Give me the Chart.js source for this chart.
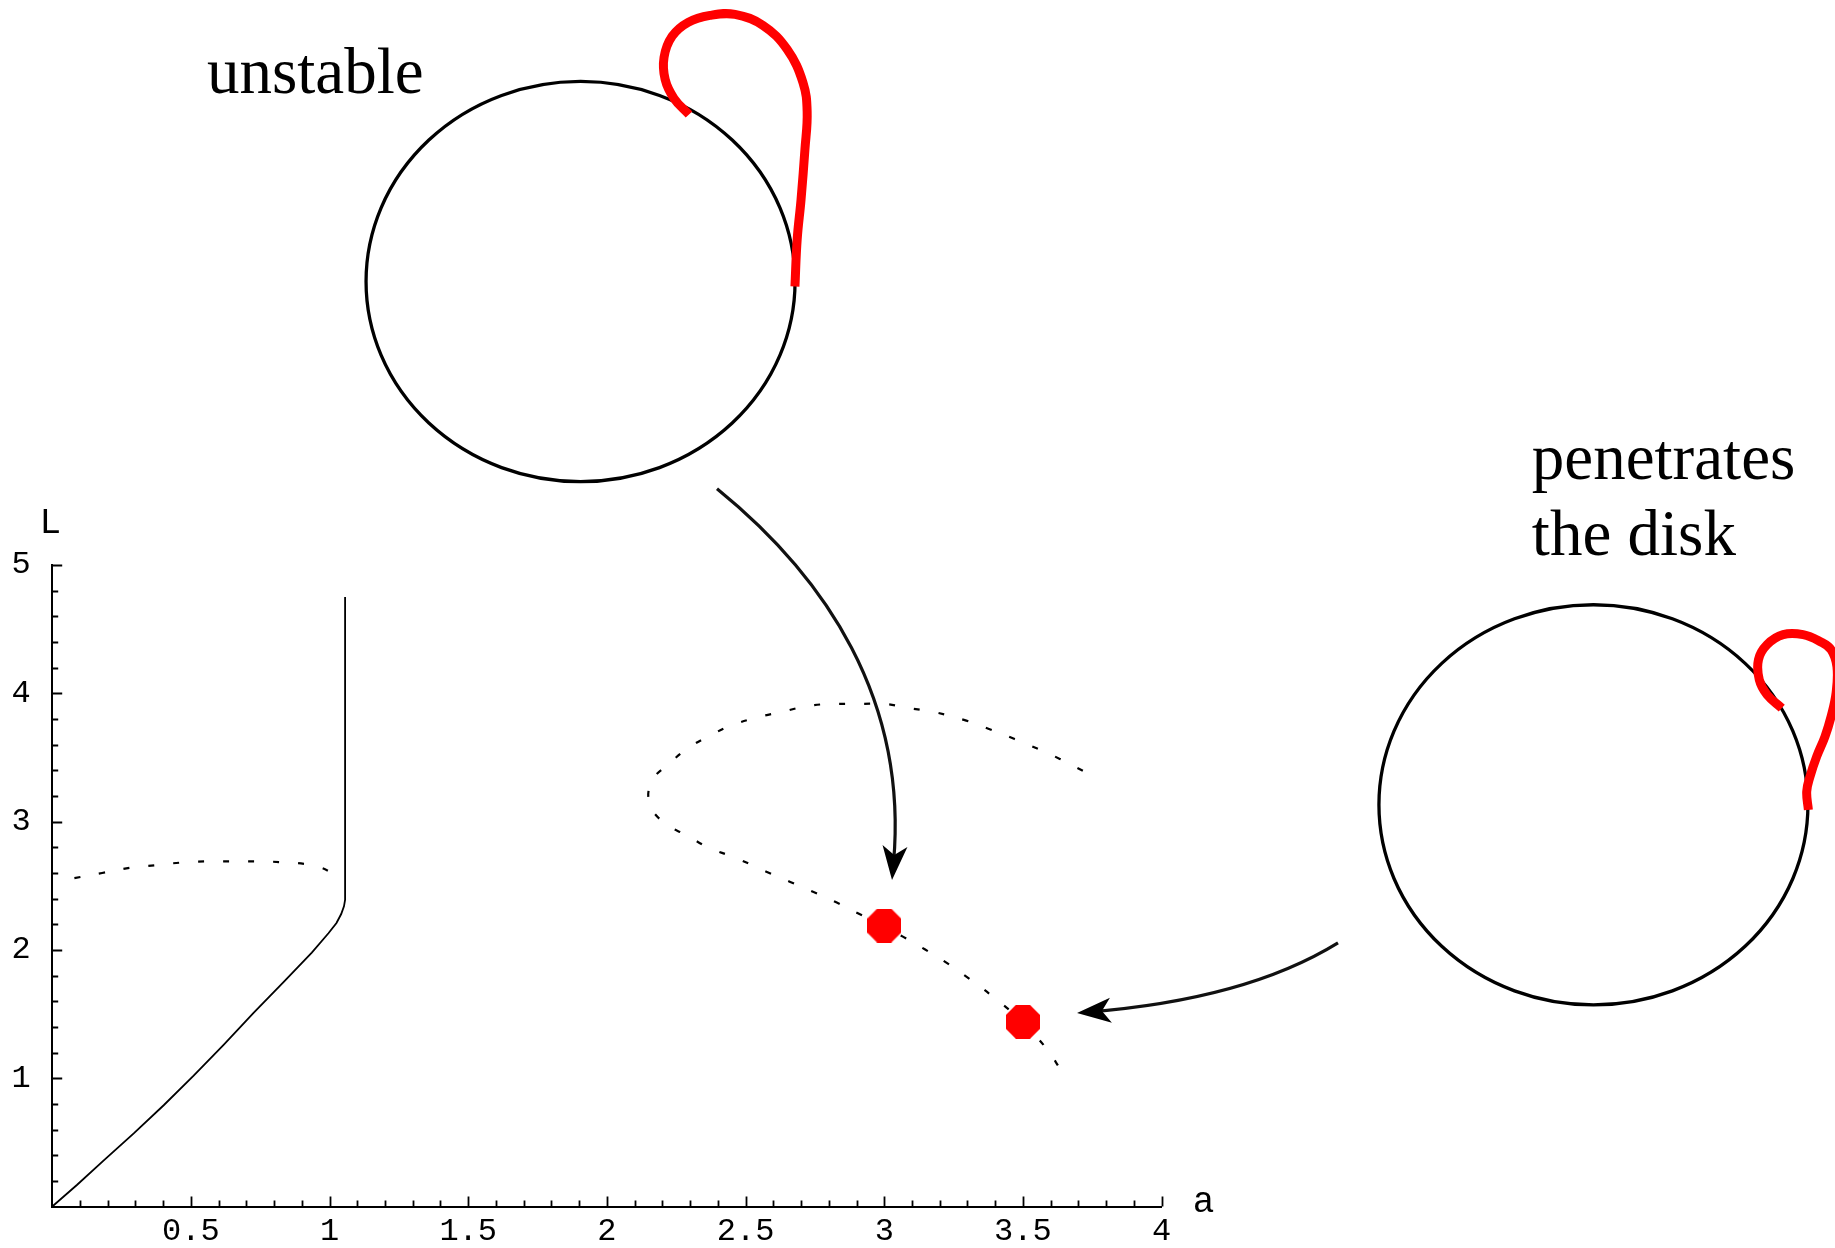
<!DOCTYPE html>
<html><head><meta charset="utf-8">
<script src="https://cdn.jsdelivr.net/npm/chart.js@4.4.1/dist/chart.umd.min.js"></script>
<style>html,body{margin:0;padding:0;background:#fff;overflow:hidden}canvas{display:block}</style>
</head><body>
<canvas id="c" width="1835" height="1248"></canvas>
<script>
// ---------------- data (a = horizontal axis, L = vertical axis) ----------------
const xMajorTicks = [0.5, 1, 1.5, 2, 2.5, 3, 3.5, 4];
const yMajorTicks = [1, 2, 3, 4, 5];

// solid branch
const solidA = [0, 0.09, 0.186, 0.294, 0.402, 0.51, 0.618, 0.726, 0.834, 0.936, 0.996, 1.025, 1.042, 1.052, 1.056, 1.056];
const solidL = [0, 0.17, 0.36, 0.57, 0.79, 1.02, 1.26, 1.51, 1.75, 1.98, 2.13, 2.21, 2.28, 2.34, 2.39, 4.75];

// dotted branch near L = 2.6
const leftDashA = [0.08, 0.18, 0.28, 0.37, 0.46, 0.55, 0.64, 0.73, 0.82, 0.91, 0.97, 1.01];
const leftDashL = [2.56, 2.60, 2.64, 2.66, 2.68, 2.69, 2.69, 2.69, 2.685, 2.67, 2.64, 2.60];

// dotted C-shaped branch
const rightDashA = [3.716, 3.633, 3.554, 3.470, 3.380, 3.296, 3.182, 3.092, 3.002, 2.905, 2.815, 2.725, 2.635, 2.545, 2.454, 2.376, 2.292, 2.226, 2.162, 2.154, 2.208, 2.286, 2.364, 2.467, 2.575, 2.659, 2.743, 2.827, 2.905, 2.995, 3.067, 3.146, 3.224, 3.296, 3.395, 3.497, 3.587, 3.635];
const rightDashL = [3.397, 3.489, 3.567, 3.644, 3.720, 3.787, 3.853, 3.884, 3.917, 3.917, 3.917, 3.902, 3.857, 3.814, 3.754, 3.676, 3.572, 3.455, 3.317, 3.138, 2.987, 2.896, 2.800, 2.715, 2.610, 2.532, 2.454, 2.372, 2.286, 2.189, 2.104, 2.005, 1.901, 1.792, 1.631, 1.441, 1.226, 1.070];

// highlighted states
const dotA = [3.0, 3.5];
const dotL = [2.19, 1.44];

// illustration: disks (centres and radii in axis units)
const diskA = [1.905, 5.557];
const diskL = [7.209, 3.131];
const diskRadiusA = 0.7734;
const diskRadiusL = 1.5593;

// illustration: red loops (axis units)
const loop1A = [2.678, 2.686, 2.700, 2.714, 2.722, 2.707, 2.650, 2.563, 2.462, 2.372, 2.293, 2.235, 2.206, 2.210, 2.242, 2.296];
const loop1L = [7.170, 7.536, 7.848, 8.238, 8.534, 8.760, 9.018, 9.205, 9.291, 9.283, 9.229, 9.120, 8.956, 8.784, 8.636, 8.511];
const loop2A = [6.332, 6.326, 6.338, 6.362, 6.392, 6.414, 6.432, 6.435, 6.414, 6.374, 6.313, 6.241, 6.183, 6.152, 6.155, 6.183, 6.236];
const loop2L = [3.092, 3.235, 3.352, 3.508, 3.664, 3.820, 4.004, 4.207, 4.340, 4.404, 4.457, 4.457, 4.379, 4.262, 4.106, 3.989, 3.885];

// illustration: arrows (cubic Bezier control points, axis units)
const arrow1A = [2.397, 2.790, 3.085, 3.028];
const arrow1L = [5.595, 4.905, 3.950, 2.546];
const arrow2A = [4.636, 4.391, 4.066, 3.695];
const arrow2L = [2.055, 1.728, 1.572, 1.509];

// illustration texts
const noteTexts = ['unstable', 'penetrates', 'the disk'];
const noteA = [0.558, 5.335, 5.335];
const noteL = [8.682, 5.672, 5.080];

// ---------------- helpers ----------------
const zip = (xs, ys) => xs.map((x, i) => ({x: x, y: ys[i]}));
const near = (v, list) => list.find(t => Math.abs(t - v) < 1e-6);

function octagonImage(d, color) {
  const c = document.createElement('canvas');
  c.width = d; c.height = d;
  const g = c.getContext('2d');
  const R = (d / 2) / Math.cos(Math.PI / 8);
  g.fillStyle = color;
  g.beginPath();
  for (let i = 0; i < 8; i++) {
    const t = Math.PI / 8 + i * Math.PI / 4;
    const px = d / 2 + R * Math.cos(t), py = d / 2 + R * Math.sin(t);
    if (i === 0) g.moveTo(px, py); else g.lineTo(px, py);
  }
  g.closePath();
  g.fill();
  return c;
}

const deco = {
  id: 'deco',
  beforeDatasetsDraw(chart) {
    const ctx = chart.ctx, xs = chart.scales.x, ys = chart.scales.y;
    ctx.save();
    ctx.strokeStyle = '#000';
    ctx.lineWidth = 3.3;
    for (let i = 0; i < diskA.length; i++) {
      const cx = xs.getPixelForValue(diskA[i]);
      const cy = ys.getPixelForValue(diskL[i]);
      const rx = xs.getPixelForValue(diskA[i] + diskRadiusA) - cx;
      const ry = cy - ys.getPixelForValue(diskL[i] + diskRadiusL);
      ctx.beginPath();
      ctx.ellipse(cx, cy, rx, ry, 0, 0, Math.PI * 2);
      ctx.stroke();
    }
    ctx.restore();
  },
  afterDraw(chart) {
    const ctx = chart.ctx, xs = chart.scales.x, ys = chart.scales.y;
    const x0 = xs.getPixelForValue(0), y0 = ys.getPixelForValue(0);
    ctx.save();
    // inward tick marks
    ctx.strokeStyle = '#000';
    ctx.lineWidth = 1.8;
    ctx.beginPath();
    xs.ticks.forEach(t => {
      if (t.value < 1e-6) return;
      const px = Math.round(xs.getPixelForValue(t.value)) + 0.5;
      const len = near(t.value, xMajorTicks) !== undefined ? 10 : 6;
      ctx.moveTo(px, y0); ctx.lineTo(px, y0 - len);
    });
    ys.ticks.forEach(t => {
      if (t.value < 1e-6) return;
      const py = Math.round(ys.getPixelForValue(t.value)) + 0.5;
      const len = near(t.value, yMajorTicks) !== undefined ? 10 : 6;
      ctx.moveTo(x0, py); ctx.lineTo(x0 + len, py);
    });
    ctx.stroke();

    // axis names
    ctx.fillStyle = '#000';
    ctx.font = '36px "Liberation Mono", monospace';
    ctx.textAlign = 'center';
    ctx.textBaseline = 'middle';
    ctx.fillText('L', x0 - 2, ys.getPixelForValue(5) - 42);
    ctx.fillText('a', xs.getPixelForValue(4) + 42, y0 - 4);

    // arrows
    const drawArrow = (A, Ls) => {
      const P = A.map((a, i) => [xs.getPixelForValue(a), ys.getPixelForValue(Ls[i])]);
      ctx.strokeStyle = '#111';
      ctx.lineWidth = 3.2;
      ctx.lineCap = 'butt';
      ctx.beginPath();
      ctx.moveTo(P[0][0], P[0][1]);
      ctx.bezierCurveTo(P[1][0], P[1][1], P[2][0], P[2][1], P[3][0] - (P[3][0]-P[2][0])*0.1, P[3][1] - (P[3][1]-P[2][1])*0.1);
      ctx.stroke();
      let ux = P[3][0] - P[2][0], uy = P[3][1] - P[2][1];
      const n = Math.hypot(ux, uy); ux /= n; uy /= n;
      const len = 34, hw = 12.5, notch = 9;
      const tx = P[3][0], ty = P[3][1];
      ctx.fillStyle = '#000';
      ctx.beginPath();
      ctx.moveTo(tx, ty);
      ctx.lineTo(tx - len * ux - hw * uy, ty - len * uy + hw * ux);
      ctx.lineTo(tx - (len - notch) * ux, ty - (len - notch) * uy);
      ctx.lineTo(tx - len * ux + hw * uy, ty - len * uy - hw * ux);
      ctx.closePath();
      ctx.fill();
    };
    drawArrow(arrow1A, arrow1L);
    drawArrow(arrow2A, arrow2L);

    // notes
    ctx.fillStyle = '#000';
    ctx.font = '65px "Liberation Serif", "Times New Roman", serif';
    ctx.textAlign = 'left';
    ctx.textBaseline = 'alphabetic';
    noteTexts.forEach((s, i) => {
      ctx.fillText(s, xs.getPixelForValue(noteA[i]), ys.getPixelForValue(noteL[i]));
    });
    ctx.restore();
  }
};

const tickFont = {family: '"Liberation Mono", monospace', size: 32};

new Chart(document.getElementById('c').getContext('2d'), {
  type: 'scatter',
  data: {
    datasets: [
      {label: 'states', data: zip(dotA, dotL), showLine: false, pointStyle: octagonImage(34, '#ff0000'), pointRadius: 17, clip: false},
      {label: 'solid', data: zip(solidA, solidL), showLine: true, borderColor: '#000', borderWidth: 1.8, pointRadius: 0, tension: 0, fill: false},
      {label: 'dotted 1', data: zip(leftDashA, leftDashL), showLine: true, borderColor: '#000', borderWidth: 2.2, borderDash: [6, 19], pointRadius: 0, tension: 0.4, fill: false},
      {label: 'dotted 2', data: zip(rightDashA, rightDashL), showLine: true, borderColor: '#000', borderWidth: 2.2, borderDash: [6, 19], pointRadius: 0, tension: 0.4, fill: false},
      {label: 'loop 1', data: zip(loop1A, loop1L), showLine: true, borderColor: '#ff0000', borderWidth: 9, borderCapStyle: 'butt', borderJoinStyle: 'round', pointRadius: 0, tension: 0.4, fill: false, clip: false},
      {label: 'loop 2', data: zip(loop2A, loop2L), showLine: true, borderColor: '#ff0000', borderWidth: 9, borderCapStyle: 'butt', borderJoinStyle: 'round', pointRadius: 0, tension: 0.4, fill: false, clip: false}
    ]
  },
  options: {
    responsive: false,
    animation: false,
    devicePixelRatio: 1,
    events: [],
    layout: {padding: {top: 565, right: 673.4, left: 0, bottom: 0}},
    plugins: {legend: {display: false}, tooltip: {enabled: false}, title: {display: false}},
    scales: {
      x: {
        type: 'linear', position: 'bottom', min: 0, max: 4,
        afterFit: s => { s.height = 41.4; },
        grid: {display: false, drawTicks: false, tickLength: 0},
        border: {display: true, color: '#000', width: 2},
        ticks: {
          stepSize: 0.1, autoSkip: false, maxRotation: 0, minRotation: 0, padding: 6,
          color: '#000', font: tickFont,
          callback: v => { const t = near(v, xMajorTicks); return t === undefined ? '' : String(t); }
        }
      },
      y: {
        type: 'linear', position: 'left', min: 0, max: 5,
        afterFit: s => { s.width = 52.2; },
        grid: {display: false, drawTicks: false, tickLength: 0},
        border: {display: true, color: '#000', width: 2},
        ticks: {
          stepSize: 0.2, autoSkip: false, padding: 21.6,
          color: '#000', font: tickFont,
          callback: v => { const t = near(v, yMajorTicks); return t === undefined ? '' : String(t); }
        }
      }
    }
  },
  plugins: [deco]
});
</script>
</body></html>
